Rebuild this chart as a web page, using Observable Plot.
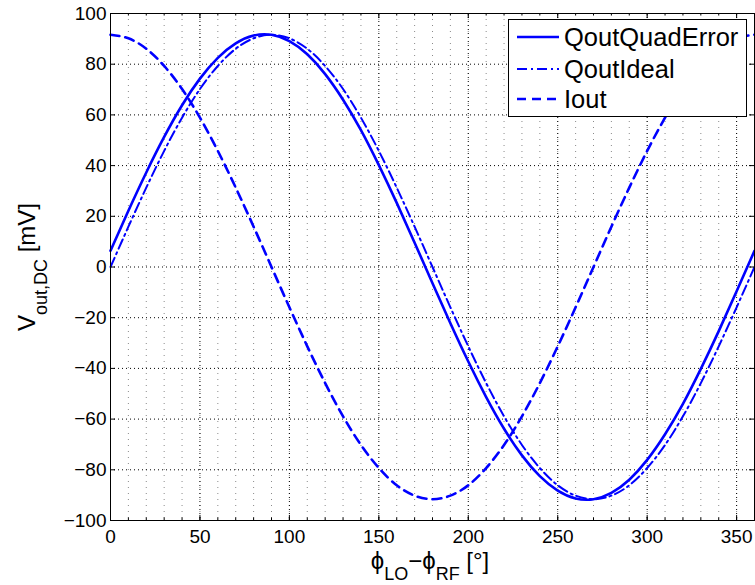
<!DOCTYPE html>
<html><head><meta charset="utf-8">
<script src="https://cdn.jsdelivr.net/npm/d3@7"></script>
<script src="https://cdn.jsdelivr.net/npm/@observablehq/plot@0.6"></script>
<style>body{margin:0;background:#fff;}</style>
</head><body><div id="chart"></div>
<script>
// phase difference [deg]
const phi = [0,10,20,30,40,50,60,70,80,90,100,110,120,130,140,150,160,170,180,
             190,200,210,220,230,240,250,260,270,280,290,300,310,320,330,340,350,360];
// values [mV]
const qoutQuadError = [6.4,22.2,37.3,51.3,63.8,74.3,82.5,88.2,91.3,91.6,89.1,83.9,76.1,66.0,54.0,40.2,25.3,9.6,-6.4,
                       -22.2,-37.3,-51.3,-63.8,-74.3,-82.5,-88.2,-91.3,-91.6,-89.1,-83.9,-76.1,-66.0,-54.0,-40.2,-25.3,-9.6,6.4];
const qoutIdeal = [0,15.9,31.3,45.8,58.9,70.2,79.3,86.1,90.2,91.6,90.2,86.1,79.3,70.2,58.9,45.8,31.3,15.9,0,
                   -15.9,-31.3,-45.8,-58.9,-70.2,-79.3,-86.1,-90.2,-91.6,-90.2,-86.1,-79.3,-70.2,-58.9,-45.8,-31.3,-15.9,0];
const iout = [91.6,90.2,86.1,79.3,70.2,58.9,45.8,31.3,15.9,0,-15.9,-31.3,-45.8,-58.9,-70.2,-79.3,-86.1,-90.2,-91.6,
              -90.2,-86.1,-79.3,-70.2,-58.9,-45.8,-31.3,-15.9,0,15.9,31.3,45.8,58.9,70.2,79.3,86.1,90.2,91.6];
const seriesNames = ["QoutQuadError","QoutIdeal","Iout"];
const xTicks = [0,50,100,150,200,250,300,350];
const xMinor = [0,10,20,30,40,50,60,70,80,90,100,110,120,130,140,150,160,170,180,190,200,210,220,230,240,250,260,270,280,290,300,310,320,330,340,350,360];
const yTicks = [-100,-80,-60,-40,-20,0,20,40,60,80,100];

const rows = phi.map((p,i)=>({phi:p, quad:qoutQuadError[i], ideal:qoutIdeal[i], iout:iout[i]}));
const blue = "#0000ff";
const FONT = "'Liberation Sans', Arial, sans-serif";
const styles = [
  {strokeWidth:2.6, dash:null},
  {strokeWidth:2.0, dash:"10,4,2,4"},
  {strokeWidth:2.6, dash:"9,6"}
];

const plot = Plot.plot({
  width:755, height:585,
  marginLeft:110, marginRight:1, marginTop:13, marginBottom:65,
  style:{fontFamily:FONT, fontSize:"19px", background:"white", color:"black"},
  x:{domain:[0,360], label:null},
  y:{domain:[-100,100], label:null},
  marks:[
    Plot.ruleX(xMinor,{stroke:"#8a8a8a", strokeDasharray:"1,5", strokeWidth:1}),
    Plot.ruleX(xTicks,{stroke:"#000", strokeDasharray:"1,3", strokeWidth:1}),
    Plot.ruleY(yTicks,{stroke:"#000", strokeDasharray:"1,3", strokeWidth:1}),
    Plot.line(rows,{x:"phi", y:"iout", stroke:blue, strokeWidth:styles[2].strokeWidth, strokeDasharray:styles[2].dash, curve:"natural"}),
    Plot.line(rows,{x:"phi", y:"ideal", stroke:blue, strokeWidth:styles[1].strokeWidth, strokeDasharray:styles[1].dash, curve:"natural"}),
    Plot.line(rows,{x:"phi", y:"quad", stroke:blue, strokeWidth:styles[0].strokeWidth, curve:"natural"}),
    Plot.ruleX(xTicks,{y1:-100, y2:-98, stroke:"black"}),
    Plot.ruleX(xTicks,{y1:100, y2:98, stroke:"black"}),
    Plot.ruleX(xMinor,{y1:-100, y2:-99, stroke:"black"}),
    Plot.ruleX(xMinor,{y1:100, y2:99, stroke:"black"}),
    Plot.ruleY(yTicks,{x1:0, x2:2.8, stroke:"black"}),
    Plot.ruleY(yTicks,{x1:360, x2:357.2, stroke:"black"}),
    Plot.frame({stroke:"black", strokeWidth:1}),
    Plot.axisX(xTicks,{tickSize:0, tickPadding:9, label:null, fontSize:19}),
    Plot.axisY(yTicks,{tickSize:0, tickPadding:4, label:null, fontSize:19})
  ]
});
document.getElementById("chart").appendChild(plot);

const svg = d3.select(plot);
// legend
const lg = svg.append("g").attr("font-family",FONT).attr("font-size",25.5).attr("text-anchor","start");
lg.append("rect").attr("x",508.5).attr("y",19.5).attr("width",238).attr("height",97)
  .attr("fill","white").attr("stroke","black").attr("stroke-width",1);
const rowY = [37, 69, 99];
seriesNames.forEach((name,i)=>{
  const l = lg.append("line").attr("x1",517).attr("x2",559).attr("y1",rowY[i]).attr("y2",rowY[i])
    .attr("stroke",blue).attr("stroke-width",styles[i].strokeWidth);
  if (styles[i].dash) l.attr("stroke-dasharray",styles[i].dash);
  lg.append("text").attr("x",564).attr("y",rowY[i]).attr("dy","0.36em").attr("text-anchor","start")
    .attr("fill","black").text(name);
});
// x label
const xl = svg.append("text").attr("x",430).attr("y",569).attr("text-anchor","middle")
  .attr("font-family",FONT).attr("font-size",24).attr("fill","black");
xl.append("tspan").text("ϕ");
xl.append("tspan").attr("font-size",18).attr("dy",11).text("LO");
xl.append("tspan").attr("dy",-11).text("−ϕ");
xl.append("tspan").attr("font-size",18).attr("dy",11).text("RF");
xl.append("tspan").attr("dy",-11).text(" [°]");
// y label
const yl = svg.append("text").attr("transform","translate(35,267) rotate(-90)").attr("text-anchor","middle")
  .attr("font-family",FONT).attr("font-size",24).attr("fill","black");
yl.append("tspan").text("V");
yl.append("tspan").attr("font-size",18).attr("dy",12).text("out,DC");
yl.append("tspan").attr("dy",-12).text(" [mV]");
</script>
</body></html>
